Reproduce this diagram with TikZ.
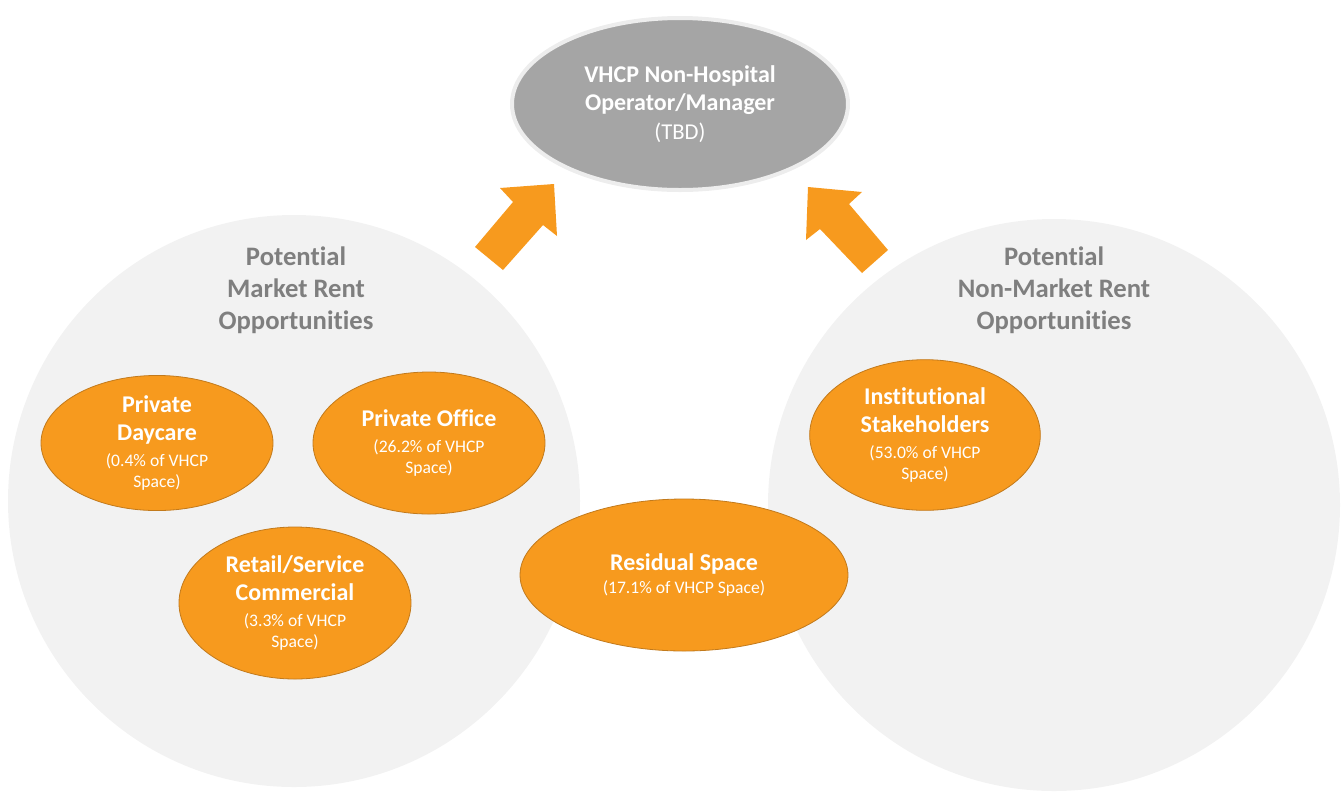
\documentclass[tikz,border=0pt]{standalone}
\usepackage{fontspec}
\setmainfont{Carlito}[Ligatures=NoCommon]
\usetikzlibrary{shapes.geometric}

\definecolor{vorange}{HTML}{F79A1E}
\definecolor{vorangeline}{HTML}{C27A1C}
\definecolor{vgrey}{HTML}{A5A5A5}
\definecolor{vgreyline}{HTML}{EDEDED}
\definecolor{vpale}{HTML}{F2F2F2}
\definecolor{vtitle}{HTML}{7F7F7F}

\newcommand{\bigtxt}{\fontsize{18}{21.6}\selectfont\bfseries}
\newcommand{\smalltxt}{\fontsize{13.2}{15.8}\selectfont\mdseries}

\tikzset{
  space/.style={ellipse, fill=vorange, draw=vorangeline, line width=0.6pt,
    inner sep=0pt, text=white, align=center, font=\bigtxt},
  group/.style={fill=vpale},
  grouptitle/.style={text=vtitle, align=center,
    font=\fontsize{20}{24}\selectfont\bfseries},
  blockarrow/.style={fill=vorange}
}

\begin{document}
\begin{tikzpicture}[x=0.75pt,y=-0.75pt]
  \useasboundingbox (0,0) rectangle (1343,794);
  % the two groups
  \fill[group] (294,501) circle (286);
  \fill[group] (1054,505) circle (286);
  \node[grouptitle] (markettitle) at (296,290) {Potential\\Market Rent\\Opportunities};
  \node[grouptitle] (nonmarkettitle) at (1054,290) {Potential\\Non-Market Rent\\Opportunities};
  % operator on top
  \node[ellipse, fill=vgrey, draw=vgreyline, line width=3pt, inner sep=0pt,
    minimum width=252pt, minimum height=129pt, text=white, align=center,
    font=\bigtxt] (operator) at (680,104)
    {VHCP Non-Hospital\\Operator/Manager\\
     \fontsize{17}{20.4}\selectfont\mdseries (TBD)};
  % block arrows
  \fill[blockarrow] (554,184) -- (557,236) -- (543,225) -- (503,270)
    -- (475,247) -- (513,202) -- (500,188) -- cycle;
  \fill[blockarrow] (808,187) -- (806,240) -- (820,229) -- (862,273)
    -- (888,250) -- (849,204) -- (862,192) -- cycle;
  % space types
  \node[space, minimum width=174pt, minimum height=100.5pt] (daycare) at (157,443)
    {Private\\Daycare\\[-2.1pt]\smalltxt (0.4\% of VHCP\\[-5.8pt]\smalltxt Space)};
  \node[space, minimum width=174pt, minimum height=106.5pt] (office) at (429,443)
    {Private Office\\[-2.1pt]\smalltxt (26.2\% of VHCP\\[-5.8pt]\smalltxt Space)};
  \node[space, minimum width=174pt, minimum height=114pt] (retail) at (295,603)
    {Retail/Service\\Commercial\\[-2.1pt]\smalltxt (3.3\% of VHCP\\[-5.8pt]\smalltxt Space)};
  \node[space, minimum width=246pt, minimum height=114pt] (residual) at (684,575)
    {Residual Space\\[-4pt]\smalltxt (17.1\% of VHCP Space)};
  \node[space, minimum width=173pt, minimum height=113pt] (institutional) at (925,435)
    {Institutional\\Stakeholders\\[-2.1pt]\smalltxt (53.0\% of VHCP\\[-5.8pt]\smalltxt Space)};
\end{tikzpicture}
\end{document}
